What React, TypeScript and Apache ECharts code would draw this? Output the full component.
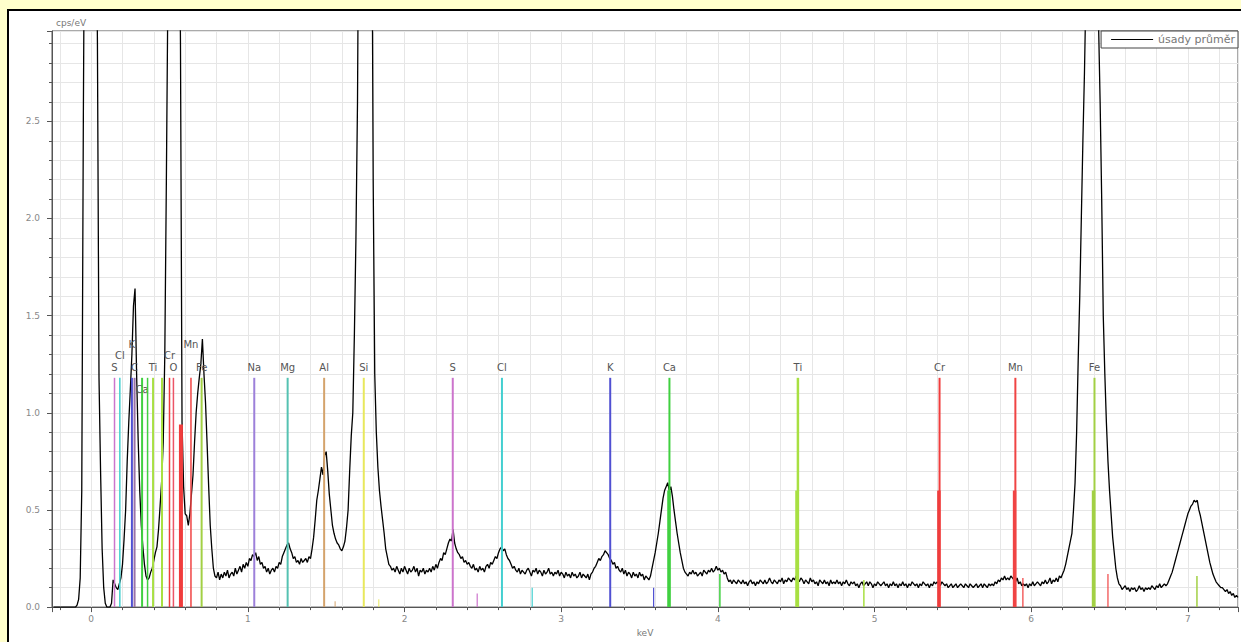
import React, { useEffect, useRef } from "react";
import * as echarts from "echarts";

// ---------------- data ----------------
const SERIES_NAME = "úsady průměr";
const X_AXIS_NAME = "keV";
const Y_AXIS_NAME = "cps/eV";

// spectrum channels: energy of first channel and channel width (keV)
const SPECTRUM_START_KEV = -0.24;
const SPECTRUM_STEP_KEV = 0.01;
// counts (cps/eV), one value per channel
const SPECTRUM_CPS = [
  0, 0, 0, 0, 0, 0, 0, 0, 0, 0, // -0.24
  0, 0, 0, 0, 0, 0.01, 0.04, 0.15, 0.6, 2.5, // -0.14
  4, 4, 4, 4, 4, 4, 4, 4, 2.9, 1.18, // -0.04
  0.7, 0.3, 0.1, 0.02, 0, 0, 0, 0.02, 0.14, 0.12, // 0.06
  0.1, 0.09, 0.12, 0.15, 0.22, 0.35, 0.5, 0.75, 0.95, 1.12, // 0.16
  1.3, 1.55, 1.64, 1.2, 0.86, 0.6, 0.42, 0.31, 0.22, 0.16, // 0.26
  0.14, 0.15, 0.18, 0.2, 0.24, 0.28, 0.31, 0.4, 0.52, 0.65, // 0.36
  0.85, 1.3, 2.2, 3.2, 4, 4, 4, 4, 4, 4, // 0.46
  4, 2.9, 0.95, 0.62, 0.48, 0.47, 0.42, 0.48, 0.58, 0.68, // 0.56
  0.85, 1.0, 1.1, 1.18, 1.25, 1.38, 1.2, 1.05, 0.84, 0.62, // 0.66
  0.42, 0.3, 0.2, 0.16, 0.15, 0.18, 0.14, 0.17, 0.15, 0.18, // 0.76
  0.16, 0.19, 0.15, 0.17, 0.18, 0.16, 0.2, 0.17, 0.19, 0.21, // 0.86
  0.18, 0.22, 0.2, 0.23, 0.21, 0.25, 0.24, 0.27, 0.26, 0.28, // 0.96
  0.24, 0.26, 0.22, 0.23, 0.2, 0.21, 0.18, 0.2, 0.17, 0.19, // 1.06
  0.2, 0.18, 0.21, 0.2, 0.23, 0.22, 0.26, 0.28, 0.3, 0.32, // 1.16
  0.33, 0.3, 0.28, 0.25, 0.26, 0.23, 0.24, 0.22, 0.25, 0.23, // 1.26
  0.24, 0.25, 0.23, 0.26, 0.25, 0.3, 0.36, 0.45, 0.55, 0.6, // 1.36
  0.66, 0.72, 0.68, 0.78, 0.8, 0.7, 0.58, 0.5, 0.42, 0.38, // 1.46
  0.35, 0.33, 0.32, 0.3, 0.29, 0.31, 0.34, 0.41, 0.5, 0.7, // 1.56
  0.88, 1.0, 1.4, 1.9, 2.6, 4, 4, 4, 4, 4, // 1.66
  4, 4, 4, 4, 2.2, 1.2, 0.9, 0.72, 0.6, 0.52, // 1.76
  0.45, 0.38, 0.3, 0.26, 0.22, 0.21, 0.19, 0.2, 0.18, 0.21, // 1.86
  0.19, 0.17, 0.2, 0.18, 0.21, 0.19, 0.17, 0.2, 0.18, 0.19, // 1.96
  0.21, 0.18, 0.2, 0.16, 0.19, 0.18, 0.2, 0.17, 0.19, 0.18, // 2.06
  0.2, 0.18, 0.21, 0.19, 0.22, 0.2, 0.23, 0.25, 0.24, 0.28, // 2.16
  0.27, 0.3, 0.33, 0.35, 0.34, 0.4, 0.33, 0.3, 0.28, 0.27, // 2.26
  0.25, 0.26, 0.23, 0.24, 0.22, 0.23, 0.21, 0.2, 0.22, 0.19, // 2.36
  0.2, 0.18, 0.21, 0.19, 0.2, 0.18, 0.21, 0.22, 0.2, 0.23, // 2.46
  0.22, 0.24, 0.26, 0.25, 0.28, 0.3, 0.31, 0.29, 0.3, 0.27, // 2.56
  0.25, 0.24, 0.22, 0.2, 0.21, 0.19, 0.18, 0.2, 0.17, 0.19, // 2.66
  0.18, 0.17, 0.19, 0.2, 0.18, 0.16, 0.19, 0.18, 0.2, 0.17, // 2.76
  0.19, 0.18, 0.16, 0.19, 0.17, 0.18, 0.2, 0.17, 0.18, 0.16, // 2.86
  0.18, 0.17, 0.19, 0.16, 0.18, 0.17, 0.15, 0.18, 0.16, 0.17, // 2.96
  0.15, 0.18, 0.16, 0.17, 0.15, 0.16, 0.18, 0.15, 0.17, 0.16, // 3.06
  0.15, 0.17, 0.14, 0.17, 0.18, 0.2, 0.21, 0.23, 0.25, 0.24, // 3.16
  0.26, 0.27, 0.29, 0.28, 0.27, 0.25, 0.24, 0.22, 0.23, 0.2, // 3.26
  0.21, 0.19, 0.18, 0.2, 0.17, 0.19, 0.16, 0.18, 0.17, 0.15, // 3.36
  0.18, 0.16, 0.17, 0.15, 0.18, 0.16, 0.17, 0.14, 0.16, 0.15, // 3.46
  0.14, 0.16, 0.2, 0.24, 0.28, 0.33, 0.38, 0.44, 0.5, 0.56, // 3.56
  0.6, 0.62, 0.64, 0.6, 0.62, 0.57, 0.5, 0.44, 0.38, 0.33, // 3.66
  0.28, 0.24, 0.2, 0.18, 0.17, 0.16, 0.18, 0.17, 0.19, 0.17, // 3.76
  0.18, 0.16, 0.17, 0.18, 0.16, 0.19, 0.18, 0.17, 0.19, 0.18, // 3.86
  0.2, 0.18, 0.19, 0.21, 0.19, 0.2, 0.18, 0.19, 0.17, 0.18, // 3.96
  0.15, 0.13, 0.14, 0.12, 0.14, 0.13, 0.12, 0.14, 0.13, 0.12, // 4.06
  0.14, 0.12, 0.13, 0.11, 0.13, 0.14, 0.12, 0.13, 0.11, 0.13, // 4.16
  0.12, 0.14, 0.13, 0.12, 0.14, 0.12, 0.13, 0.15, 0.13, 0.12, // 4.26
  0.14, 0.13, 0.12, 0.14, 0.13, 0.15, 0.12, 0.14, 0.13, 0.15, // 4.36
  0.14, 0.13, 0.15, 0.14, 0.16, 0.15, 0.13, 0.15, 0.14, 0.12, // 4.46
  0.14, 0.13, 0.12, 0.15, 0.13, 0.14, 0.12, 0.13, 0.11, 0.14, // 4.56
  0.13, 0.12, 0.14, 0.12, 0.13, 0.11, 0.14, 0.12, 0.13, 0.12, // 4.66
  0.14, 0.12, 0.13, 0.11, 0.13, 0.12, 0.14, 0.12, 0.11, 0.13, // 4.76
  0.12, 0.13, 0.11, 0.12, 0.1, 0.12, 0.13, 0.11, 0.12, 0.13, // 4.86
  0.11, 0.13, 0.12, 0.1, 0.12, 0.11, 0.13, 0.12, 0.11, 0.12, // 4.96
  0.13, 0.11, 0.12, 0.1, 0.12, 0.11, 0.13, 0.11, 0.12, 0.1, // 5.06
  0.12, 0.11, 0.13, 0.11, 0.12, 0.1, 0.12, 0.11, 0.13, 0.12, // 5.16
  0.11, 0.12, 0.1, 0.12, 0.11, 0.13, 0.12, 0.11, 0.12, 0.1, // 5.26
  0.12, 0.11, 0.13, 0.12, 0.13, 0.12, 0.11, 0.13, 0.12, 0.11, // 5.36
  0.12, 0.1, 0.11, 0.12, 0.1, 0.11, 0.12, 0.1, 0.11, 0.12, // 5.46
  0.11, 0.1, 0.12, 0.11, 0.1, 0.12, 0.11, 0.1, 0.11, 0.12, // 5.56
  0.1, 0.11, 0.12, 0.1, 0.12, 0.11, 0.1, 0.12, 0.11, 0.12, // 5.66
  0.11, 0.13, 0.12, 0.14, 0.13, 0.15, 0.14, 0.16, 0.14, 0.15, // 5.76
  0.14, 0.16, 0.15, 0.14, 0.13, 0.15, 0.12, 0.13, 0.11, 0.12, // 5.86
  0.11, 0.12, 0.1, 0.12, 0.11, 0.13, 0.11, 0.12, 0.13, 0.12, // 5.96
  0.11, 0.13, 0.12, 0.14, 0.12, 0.13, 0.15, 0.12, 0.14, 0.13, // 6.06
  0.15, 0.13, 0.16, 0.15, 0.17, 0.19, 0.22, 0.26, 0.3, 0.34, // 6.16
  0.38, 0.5, 0.64, 0.9, 1.27, 1.6, 2.0, 2.4, 2.75, 3.2, // 6.26
  4, 4, 4, 4, 4, 4, 4, 3.0, 2.6, 2.1, // 6.36
  1.5, 1.2, 0.95, 0.75, 0.6, 0.48, 0.36, 0.28, 0.2, 0.15, // 6.46
  0.12, 0.11, 0.09, 0.1, 0.11, 0.09, 0.1, 0.08, 0.1, 0.09, // 6.56
  0.1, 0.08, 0.09, 0.11, 0.09, 0.1, 0.08, 0.1, 0.09, 0.1, // 6.66
  0.09, 0.11, 0.1, 0.09, 0.11, 0.1, 0.12, 0.1, 0.11, 0.12, // 6.76
  0.11, 0.12, 0.14, 0.16, 0.18, 0.21, 0.24, 0.27, 0.3, 0.33, // 6.86
  0.36, 0.39, 0.42, 0.45, 0.48, 0.5, 0.52, 0.53, 0.55, 0.54, // 6.96
  0.55, 0.5, 0.47, 0.43, 0.39, 0.35, 0.31, 0.27, 0.23, 0.2, // 7.06
  0.17, 0.15, 0.13, 0.12, 0.11, 0.1, 0.1, 0.09, 0.08, 0.09, // 7.16
  0.07, 0.08, 0.06, 0.07, 0.05, 0.06, 0.05, // 7.26
];

// element marker lines
const MARKER_ELEMENT = [
  "S", "Cl", "K", "C", "Ca", "Ca", "Ti", "Ti", "Cr", "O", "Cr", "Mn", "Fe",
  "Na", "Mg", "Al", "Si", "S", "Cl", "K", "Ca", "Ca", "Ti", "Ti", "Cr", "Cr", "Mn", "Mn", "Fe", "Fe",
  "Al", "Si", "S", "Cl", "K", "Ca", "Ti", "Cr", "Mn", "Fe",
];
const MARKER_KEV = [
  0.149, 0.183, 0.26, 0.277, 0.325, 0.36, 0.395, 0.452, 0.5, 0.525, 0.573, 0.637, 0.705,
  1.041, 1.254, 1.487, 1.74, 2.308, 2.622, 3.313, 3.691, 3.688, 4.511, 4.505, 5.415, 5.411, 5.899, 5.894, 6.404, 6.398,
  1.557, 1.836, 2.464, 2.815, 3.59, 4.013, 4.932, 5.947, 6.49, 7.058,
];
const MARKER_HEIGHT = [
  1.18, 1.18, 1.18, 1.18, 1.18, 1.18, 1.18, 1.18, 1.18, 1.18, 0.94, 1.18, 1.18,
  1.18, 1.18, 1.18, 1.18, 1.18, 1.18, 1.18, 1.18, 0.6, 1.18, 0.6, 1.18, 0.6, 1.18, 0.6, 1.18, 0.6,
  0.03, 0.04, 0.07, 0.1, 0.1, 0.17, 0.14, 0.15, 0.17, 0.16,
];
const MARKER_LABEL = [
  "S", "Cl", "K", "C", "Ca", "", "Ti", "", "Cr", "O", "", "Mn", "Fe",
  "Na", "Mg", "Al", "Si", "S", "Cl", "K", "Ca", "", "Ti", "", "Cr", "", "Mn", "", "Fe", "",
  "", "", "", "", "", "", "", "", "", "",
];

// ---------------- styles ----------------
const ELEMENT_COLOR: Record<string, string> = {
  C: "#9a72a8",
  O: "#ec5466",
  Na: "#9d80da",
  Mg: "#55c2b2",
  Al: "#d4a36c",
  Si: "#e8e85c",
  S: "#cc74cc",
  Cl: "#44cfd0",
  K: "#5050d2",
  Ca: "#40d040",
  Ti: "#a8e042",
  Cr: "#f03c3c",
  Mn: "#f04444",
  Fe: "#a2d044",
};
const MARKER_WIDTH = [
  1.5, 1.5, 2, 2, 2, 1.5, 2, 2, 1.5, 1.5, 4, 1.5, 2,
  2, 2, 2, 2, 2, 2, 2, 2, 3.5, 2.5, 3.5, 2, 3.5, 2, 3.5, 2, 3.5,
  1, 1, 1.2, 1.2, 1.2, 1.5, 1.5, 1.2, 1.2, 1.5,
];
// extra upward shift (px) of a few crowded labels
const LABEL_LIFT: Record<number, number> = { 1: 12, 2: 23, 4: -22, 8: 12, 11: 23 };

const FONT = "DejaVu Sans";
const GRID_COLOR = "#e6e6e6";
const AXIS_COLOR = "#555";
const LABEL_COLOR = "#888";

const X_MIN = -0.25;
const X_MAX = 7.32;
const Y_MAX = 2.965;

export default function App() {
  const ref = useRef<HTMLDivElement>(null);

  useEffect(() => {
    if (!ref.current) return;
    const chart = echarts.init(ref.current, undefined, { renderer: "svg" });

    const spectrum = SPECTRUM_CPS.map((v, i) => [
      Number((SPECTRUM_START_KEV + i * SPECTRUM_STEP_KEV).toFixed(2)),
      v,
    ]);
    const markers = MARKER_KEV.map((e, i) => [e, MARKER_HEIGHT[i], i]);

    const xFormatter = (v: number) => (Math.abs(v - Math.round(v)) < 1e-6 ? String(Math.round(v)) : "");
    const yFormatter = (v: number) =>
      Math.abs(v * 2 - Math.round(v * 2)) < 1e-6 ? v.toFixed(1) : "";

    chart.setOption({
      animation: false,
      backgroundColor: "#ffffff",
      grid: {
        left: 43,
        top: 20,
        right: 3,
        bottom: 31,
        show: true,
        borderColor: AXIS_COLOR,
        borderWidth: 1,
        backgroundColor: "#ffffff",
      },
      legend: {
        data: [SERIES_NAME],
        top: 20,
        right: 3,
        icon: "rect",
        itemWidth: 42,
        itemHeight: 1,
        padding: [3, 3, 3, 10],
        backgroundColor: "#ffffff",
        borderColor: "#444",
        borderWidth: 1,
        borderRadius: 0,
        textStyle: { fontSize: 11, color: "#777", fontFamily: FONT },
      },
      xAxis: {
        type: "value",
        min: X_MIN,
        max: X_MAX,
        splitNumber: 8,
        minInterval: 1,
        maxInterval: 1,
        name: X_AXIS_NAME,
        nameLocation: "middle",
        nameGap: 20,
        nameTextStyle: { fontSize: 9, color: "#777", fontFamily: FONT },
        axisLine: { show: true, onZero: false, lineStyle: { color: AXIS_COLOR } },
        axisTick: { show: true, length: 5, lineStyle: { color: AXIS_COLOR } },
        minorTick: { show: true, splitNumber: 5, length: 3, lineStyle: { color: AXIS_COLOR } },
        axisLabel: { margin: 7, fontSize: 9, color: LABEL_COLOR, fontFamily: FONT, formatter: xFormatter },
        splitLine: { show: true, lineStyle: { color: GRID_COLOR } },
        minorSplitLine: { show: true, lineStyle: { color: GRID_COLOR } },
      },
      yAxis: {
        type: "value",
        min: 0,
        max: Y_MAX,
        interval: 0.5,
        name: Y_AXIS_NAME,
        nameLocation: "end",
        nameGap: 4,
        nameTextStyle: {
          fontSize: 9,
          color: "#777",
          fontFamily: FONT,
          align: "left",
          verticalAlign: "bottom",
          padding: [0, 0, 0, 4],
        },
        axisLine: { show: true, onZero: false, lineStyle: { color: AXIS_COLOR } },
        axisTick: { show: true, length: 5, lineStyle: { color: AXIS_COLOR } },
        minorTick: { show: true, splitNumber: 5, length: 3, lineStyle: { color: AXIS_COLOR } },
        axisLabel: { margin: 12, fontSize: 9, color: LABEL_COLOR, fontFamily: FONT, formatter: yFormatter },
        splitLine: { show: true, lineStyle: { color: GRID_COLOR } },
        minorSplitLine: { show: true, lineStyle: { color: GRID_COLOR } },
      },
      series: [
        {
          name: SERIES_NAME,
          type: "line",
          data: spectrum,
          symbol: "none",
          showSymbol: false,
          clip: true,
          silent: true,
          z: 2,
          lineStyle: { color: "#000000", width: 1.3 },
          itemStyle: { color: "#000000" },
        },
        {
          name: "markers",
          type: "custom",
          data: markers,
          encode: { x: 0, y: 1 },
          clip: true,
          silent: true,
          z: 3,
          renderItem: (params: any, api: any) => {
            const e = api.value(0);
            const h = api.value(1);
            const i = api.value(2);
            const base = api.coord([e, 0]);
            const top = api.coord([e, h]);
            const color = ELEMENT_COLOR[MARKER_ELEMENT[i]];
            const children: any[] = [
              {
                type: "line",
                shape: { x1: base[0], y1: base[1], x2: top[0], y2: top[1] },
                style: { stroke: color, lineWidth: MARKER_WIDTH[i] },
              },
            ];
            if (MARKER_LABEL[i]) {
              children.push({
                type: "text",
                style: {
                  text: MARKER_LABEL[i],
                  x: top[0],
                  y: top[1] - 10 - (LABEL_LIFT[i] || 0),
                  align: "center",
                  verticalAlign: "middle",
                  fill: "#555",
                  fontSize: 10,
                  fontFamily: FONT,
                },
              });
            }
            return { type: "group", children };
          },
        },
      ],
    });

    return () => chart.dispose();
  }, []);

  return (
    <div
      style={{
        position: "fixed",
        left: 0,
        top: 0,
        width: 1241,
        height: 642,
        background: "#FFFFCC",
        overflow: "hidden",
      }}
    >
      <div
        style={{
          position: "absolute",
          left: 7,
          top: 9,
          width: 1234,
          height: 633,
          borderLeft: "2px solid #000",
          borderTop: "2px solid #000",
          boxSizing: "border-box",
          background: "#fff",
        }}
      >
        <div ref={ref} style={{ width: 1232, height: 631 }} />
      </div>
    </div>
  );
}
